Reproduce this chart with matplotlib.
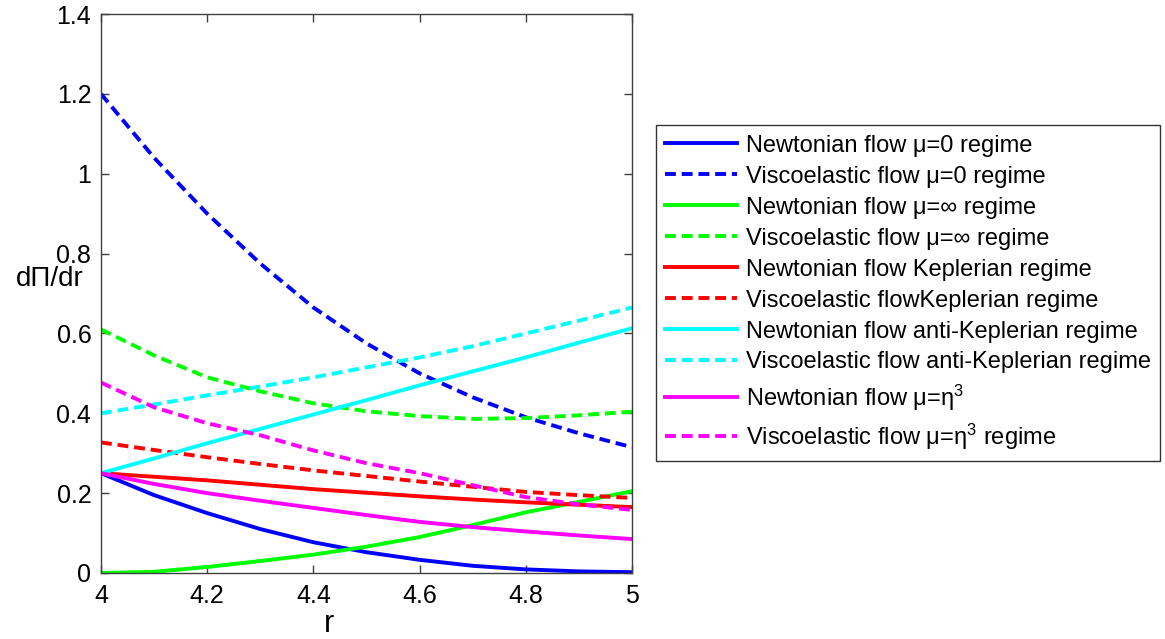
import numpy as np
import matplotlib
matplotlib.use('Agg')
import matplotlib.pyplot as plt

plt.rcParams['font.family'] = ['Liberation Sans', 'DejaVu Sans']
plt.rcParams['mathtext.fontset'] = 'custom'
plt.rcParams['mathtext.rm'] = 'Liberation Sans'
plt.rcParams['mathtext.it'] = 'Liberation Sans'

# r grid (read every 0.1)
r = [4.0, 4.1, 4.2, 4.3, 4.4, 4.5, 4.6, 4.7, 4.8, 4.9, 5.0]

newt_mu0 = [0.25, 0.195, 0.150, 0.110, 0.077, 0.052, 0.033, 0.018, 0.009, 0.004, 0.002]
visc_mu0 = [1.20, 1.04, 0.900, 0.775, 0.665, 0.575, 0.500, 0.440, 0.390, 0.350, 0.315]
newt_muinf = [0.0, 0.003, 0.015, 0.030, 0.046, 0.066, 0.090, 0.120, 0.152, 0.178, 0.205]
visc_muinf = [0.61, 0.545, 0.490, 0.455, 0.425, 0.405, 0.393, 0.386, 0.388, 0.395, 0.404]
newt_kep = [0.25, 0.241, 0.232, 0.221, 0.210, 0.201, 0.192, 0.184, 0.177, 0.171, 0.165]
visc_kep = [0.327, 0.308, 0.290, 0.273, 0.257, 0.243, 0.229, 0.216, 0.203, 0.195, 0.188]
newt_antikep = [0.25, 0.287, 0.325, 0.361, 0.397, 0.433, 0.470, 0.505, 0.540, 0.577, 0.613]
visc_antikep = [0.40, 0.422, 0.445, 0.467, 0.490, 0.515, 0.540, 0.568, 0.600, 0.632, 0.665]
newt_eta3 = [0.25, 0.223, 0.200, 0.181, 0.163, 0.145, 0.128, 0.115, 0.104, 0.094, 0.085]
visc_eta3 = [0.477, 0.415, 0.375, 0.345, 0.307, 0.275, 0.250, 0.220, 0.190, 0.172, 0.158]

labels = ['Newtonian flow μ=0 regime',
          'Viscoelastic flow μ=0 regime',
          'Newtonian flow μ=∞ regime',
          'Viscoelastic flow μ=∞ regime',
          'Newtonian flow Keplerian regime',
          'Viscoelastic flowKeplerian regime',
          'Newtonian flow anti-Keplerian regime',
          'Viscoelastic flow anti-Keplerian regime',
          'Newtonian flow μ=η$^3$',
          'Viscoelastic flow μ=η$^3$ regime']

series = [newt_mu0, visc_mu0, newt_muinf, visc_muinf, newt_kep, visc_kep,
          newt_antikep, visc_antikep, newt_eta3, visc_eta3]
colors = ['#0000ff', '#0000ff', '#00ff00', '#00ff00', '#ff0000', '#ff0000',
          '#00ffff', '#00ffff', '#ff00ff', '#ff00ff']

fig = plt.figure(figsize=(11.65, 6.39), dpi=100)
ax = fig.add_axes([0.0867, 0.1033, 0.4558, 0.8747])

# solid = Newtonian, dashed = viscoelastic
for i, (y, c, lab) in enumerate(zip(series, colors, labels)):
    if i % 2 == 0:
        ax.plot(r, y, color=c, lw=2.8, label=lab)
    else:
        ax.plot(r, y, color=c, lw=2.8, ls=(0, (2.8, 1.5)), label=lab)

ax.set_xlim(4, 5)
ax.set_ylim(0, 1.4)
ax.set_xticks([4, 4.2, 4.4, 4.6, 4.8, 5])
ax.set_xticklabels(['4', '4.2', '4.4', '4.6', '4.8', '5'])
ax.set_yticks([0, 0.2, 0.4, 0.6, 0.8, 1, 1.2, 1.4])
ax.set_yticklabels(['0', '0.2', '0.4', '0.6', '0.8', '1', '1.2', '1.4'])
ax.tick_params(direction='in', top=True, right=True, length=6, width=1,
               labelsize=18, color='#404040')
ax.tick_params(axis='x', pad=8)
ax.tick_params(axis='y', pad=7)
for s in ax.spines.values():
    s.set_color('#404040')
    s.set_linewidth(1)

ax.set_xlabel('r', fontsize=22, va='baseline')
ax.xaxis.set_label_coords(0.43, -0.106)
ax.set_ylabel('dΠ/dr', fontsize=20, rotation=0, ha='center', va='center')
ax.yaxis.set_label_coords(-0.096, 0.526)

leg = ax.legend(loc='upper left', bbox_to_anchor=(0.563, 0.804),
                bbox_transform=fig.transFigure, borderaxespad=0,
                fontsize=17, handlelength=3.05, handletextpad=0.35,
                labelspacing=0.38, borderpad=0.4, fancybox=False,
                framealpha=1)
leg.get_frame().set_edgecolor('#333333')
leg.get_frame().set_linewidth(1)

fig.savefig('out.png', dpi=100)
